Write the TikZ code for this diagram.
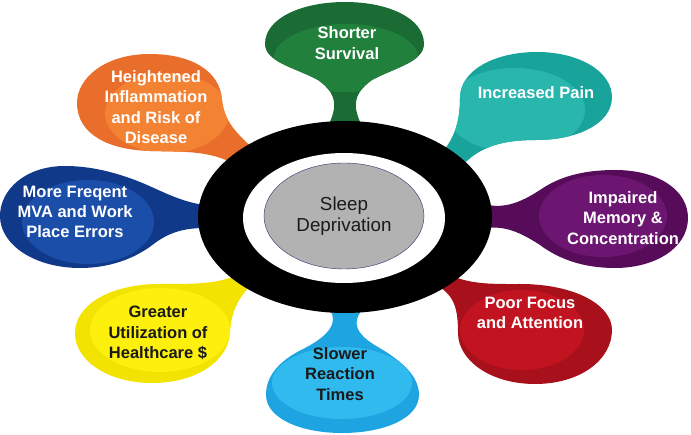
\documentclass[tikz,border=0pt]{standalone}
\usepackage{fontspec}
\setmainfont{Liberation Sans}
\usetikzlibrary{shapes.geometric}
\definecolor{survivalD}{HTML}{1A6C34}
\definecolor{survivalL}{HTML}{22803D}
\definecolor{painD}{HTML}{19A49B}
\definecolor{painL}{HTML}{28B6AD}
\definecolor{memoryD}{HTML}{560C59}
\definecolor{memoryL}{HTML}{6C1671}
\definecolor{focusD}{HTML}{A8101B}
\definecolor{focusL}{HTML}{C21420}
\definecolor{reactionD}{HTML}{1FA4E2}
\definecolor{reactionL}{HTML}{30BAEE}
\definecolor{healthD}{HTML}{F2E300}
\definecolor{healthL}{HTML}{FCF00C}
\definecolor{errorsD}{HTML}{10398A}
\definecolor{errorsL}{HTML}{1A4EA8}
\definecolor{inflamD}{HTML}{EA6E2B}
\definecolor{inflamL}{HTML}{F38233}
\definecolor{ink}{HTML}{1A1A1A}
\definecolor{rim}{HTML}{2E2E6E}
\tikzstyle{bubbletext}=[align=center,text=white,inner sep=0,font=\fontsize{16.5}{20.3}\selectfont\bfseries]
\tikzstyle{darktext}=[bubbletext,text=ink]
\tikzstyle{core}=[shape=ellipse,draw=rim,fill=black!30,minimum width=160pt,minimum height=106pt,inner sep=0,align=center,text=ink,font=\fontsize{18.8}{21.5}\selectfont]

\begin{document}
\begin{tikzpicture}[x=1pt,y=-1pt]
\useasboundingbox (0,0) rectangle (691,435);
\foreach \shp/\dk/\lt/\inr in {
{(328,126) .. controls (337,108) and (338,94) .. (318,80) .. controls (296,68) and (265,62) .. (265,44) .. controls (265,18) and (302,2) .. (345,2) .. controls (388,2) and (424,18) .. (424,44) .. controls (424,62) and (394,68) .. (372,80) .. controls (352,94) and (353,108) .. (362,126) -- cycle}/survivalD/survivalL/{(346,58) ellipse (72pt and 34pt)},
{(444,150) .. controls (456,135) and (460,118) .. (460,98) .. controls (460,70) and (495,52) .. (537,52) .. controls (580,52) and (612,72) .. (612,97) .. controls (612,125) and (575,140) .. (537,140) .. controls (505,140) and (480,145) .. (460,168) -- cycle}/painD/painL/{(515,110) ellipse (70pt and 42pt)},
{(488,205) .. controls (505,208) and (520,203) .. (540,190) .. controls (560,176) and (585,170) .. (615,170) .. controls (658,170) and (688,190) .. (688,218) .. controls (688,248) and (655,268) .. (615,268) .. controls (585,268) and (560,260) .. (540,245) .. controls (520,232) and (505,226) .. (488,228) -- cycle}/memoryD/memoryL/{(603,216) ellipse (64pt and 41pt)},
{(440,270) .. controls (465,285) and (490,284) .. (520,284) .. controls (575,284) and (612,305) .. (612,330) .. controls (612,360) and (580,384) .. (535,384) .. controls (490,384) and (458,360) .. (458,333) .. controls (458,310) and (455,295) .. (436,285) -- cycle}/focusD/focusL/{(522,330) ellipse (62pt and 40pt)},
{(330,310) .. controls (338,322) and (330,335) .. (305,348) .. controls (280,360) and (266,375) .. (266,395) .. controls (266,418) and (300,433) .. (342,433) .. controls (385,433) and (419,418) .. (419,395) .. controls (419,375) and (400,360) .. (378,347) .. controls (355,334) and (352,322) .. (362,310) -- cycle}/reactionD/reactionL/{(342,383) ellipse (70pt and 36pt)},
{(235,276) .. controls (215,284) and (195,284) .. (160,284) .. controls (110,284) and (75,305) .. (75,333) .. controls (75,362) and (110,383) .. (152,383) .. controls (195,383) and (228,362) .. (230,333) .. controls (231,315) and (236,300) .. (252,284) -- cycle}/healthD/healthL/{(160,330) ellipse (70pt and 42pt)},
{(205,205) .. controls (180,202) and (160,190) .. (140,182) .. controls (115,172) and (90,166) .. (65,166) .. controls (25,166) and (0,190) .. (0,216) .. controls (0,245) and (35,268) .. (80,268) .. controls (115,268) and (140,255) .. (155,243) .. controls (170,232) and (185,228) .. (205,228) -- cycle}/errorsD/errorsL/{(88,222) ellipse (66pt and 42pt)},
{(255,150) .. controls (232,130) and (224,118) .. (222,100) .. controls (220,70) and (190,54) .. (150,54) .. controls (105,54) and (77,78) .. (77,103) .. controls (77,135) and (110,150) .. (150,151) .. controls (185,152) and (215,150) .. (240,168) -- cycle}/inflamD/inflamL/{(167,113) ellipse (62pt and 40pt)}}{
\begin{scope}
\clip \shp;
\fill[\dk] (0,0) rectangle (691,435);
\fill[\lt] \inr;
\end{scope}
}
\fill[black] (345,217) ellipse (147pt and 96pt);
\fill[white] (344,218) ellipse (101pt and 65pt);
\node[core] (sleep) at (344,216) {Sleep\\Deprivation};
\node[bubbletext] (survival) at (347,43) {Shorter\\Survival};
\node[bubbletext] (pain) at (536,93) {Increased Pain};
\node[bubbletext] (memory) at (623,218) {Impaired\\Memory \&\\Concentration};
\node[bubbletext] (focus) at (530,313) {Poor Focus\\and Attention};
\node[darktext] (reaction) at (340,374) {Slower\\Reaction\\Times};
\node[darktext] (health) at (158,333) {Greater\\Utilization of\\Healthcare \$};
\node[bubbletext] (errors) at (75,212) {More Freqent\\MVA and Work\\Place Errors};
\node[bubbletext] (inflam) at (156,107) {Heightened\\Inflammation\\and Risk of\\Disease};
\end{tikzpicture}
\end{document}
